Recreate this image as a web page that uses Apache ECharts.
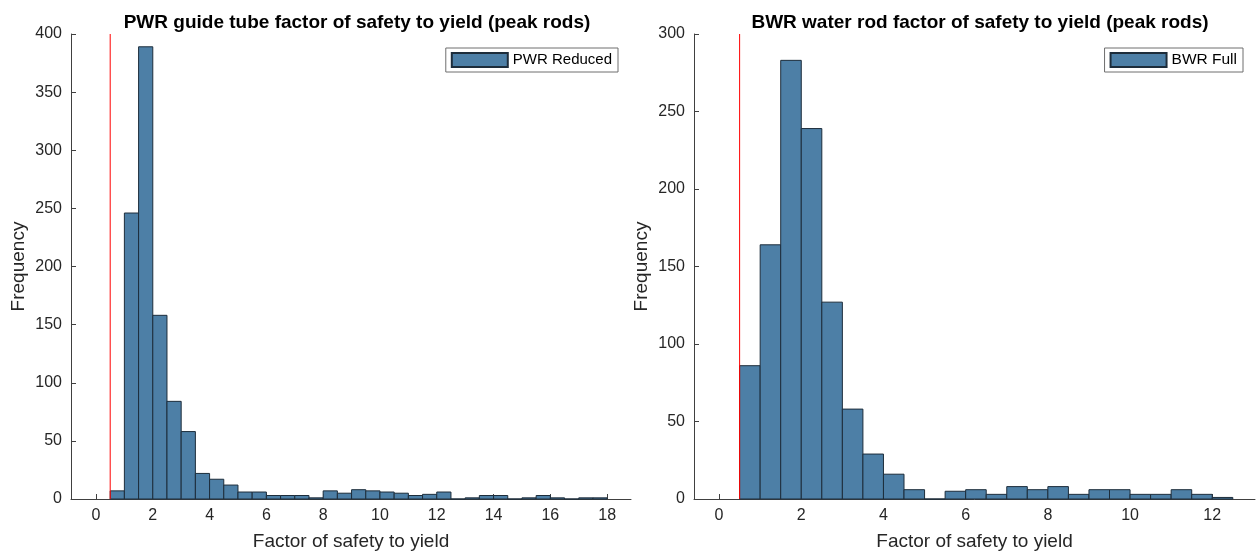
<!DOCTYPE html>
<html>
<head>
<meta charset="utf-8">
<script src="https://cdn.jsdelivr.net/npm/echarts@6/dist/echarts.min.js"></script>
<style>
  html, body { margin: 0; padding: 0; background: #ffffff; }
  #chart { width: 1256px; height: 556px; }
</style>
</head>
<body>
<div id="chart"></div>
<script>
// PWR guide tube histogram: bin edges and counts
const pwrEdges = [0.5, 1, 1.5, 2, 2.5, 3, 3.5, 4, 4.5, 5, 5.5, 6, 6.5, 7, 7.5, 8, 8.5, 9, 9.5,
  10, 10.5, 11, 11.5, 12, 12.5, 13, 13.5, 14, 14.5, 15, 15.5, 16, 16.5, 17, 17.5, 18];
const pwrCounts = [7, 246, 389, 158, 84, 58, 22, 17, 12, 6, 6, 3, 3, 3, 1, 7, 5, 8, 7, 6,
  5, 3, 4, 6, 0, 1, 3, 3, 0, 1, 3, 1, 0, 1, 1];

// BWR water rod histogram: bin edges and counts
const bwrEdges = [0.5, 1, 1.5, 2, 2.5, 3, 3.5, 4, 4.5, 5, 5.5, 6, 6.5, 7, 7.5, 8, 8.5, 9, 9.5,
  10, 10.5, 11, 11.5, 12, 12.5];
const bwrCounts = [86, 164, 283, 239, 127, 58, 29, 16, 6, 0, 5, 6, 3, 8, 6, 8, 3, 6, 6, 3,
  3, 6, 3, 1];

// Yield limit (factor of safety) marked by the red line
const limitFS = 0.5;

// Tick labels
const pwrXTicks = [0, 2, 4, 6, 8, 10, 12, 14, 16, 18];
const bwrXTicks = [0, 2, 4, 6, 8, 10, 12];
const pwrYMax = 400;
const bwrYMax = 300;

const titles = [
  'PWR guide tube factor of safety to yield (peak rods)',
  'BWR water rod factor of safety to yield (peak rods)'
];
const seriesNames = ['PWR Reduced', 'BWR Full'];

const BAR_FILL = '#4d7fa6';
const BAR_EDGE = '#1d2d3b';
const AXIS_COLOR = '#404040';
const TEXT_COLOR = '#262626';
const FONT = 'Liberation Sans, Arial, Helvetica, sans-serif';

function binData(edges, counts) {
  return counts.map((c, i) => [edges[i], edges[i + 1], c]);
}

function renderBin(params, api) {
  const lo = api.value(0), hi = api.value(1), n = api.value(2);
  const pTop = api.coord([lo, n]);
  const pBase = api.coord([hi, 0]);
  return {
    type: 'rect',
    shape: { x: pTop[0], y: pTop[1], width: pBase[0] - pTop[0], height: pBase[1] - pTop[1] },
    style: { fill: BAR_FILL, stroke: BAR_EDGE, lineWidth: 1 }
  };
}

function xAxisCfg(gridIndex, min, max, ticks) {
  return {
    type: 'value', gridIndex, min, max,
    name: 'Factor of safety to yield', nameLocation: 'middle', nameGap: 33,
    nameTextStyle: { fontSize: 19, color: TEXT_COLOR, fontFamily: FONT },
    axisLine: { show: true, onZero: false, lineStyle: { color: AXIS_COLOR, width: 1 } },
    axisTick: { show: true, inside: true, length: 5, customValues: ticks, lineStyle: { color: AXIS_COLOR } },
    axisLabel: { customValues: ticks, fontSize: 16, color: TEXT_COLOR, fontFamily: FONT, margin: 9 },
    splitLine: { show: false }
  };
}

function yAxisCfg(gridIndex, max) {
  return {
    type: 'value', gridIndex, min: 0, max, interval: 50,
    name: 'Frequency', nameLocation: 'middle', nameGap: 43, nameRotate: 90,
    nameTextStyle: { fontSize: 19, color: TEXT_COLOR, fontFamily: FONT },
    axisLine: { show: true, onZero: false, lineStyle: { color: AXIS_COLOR, width: 1 } },
    axisTick: { show: true, inside: true, length: 5, lineStyle: { color: AXIS_COLOR } },
    axisLabel: { fontSize: 16, color: TEXT_COLOR, fontFamily: FONT, margin: 9 },
    splitLine: { show: false }
  };
}

function legendCfg(name, right, fontSize) {
  return {
    data: [{ name, icon: 'rect' }],
    right, top: 48,
    orient: 'vertical',
    itemWidth: 56, itemHeight: 14,
    padding: [4, 6, 4, 5],
    borderColor: '#6e6e6e', borderWidth: 1,
    backgroundColor: '#ffffff',
    textStyle: { fontSize, color: '#000000', fontFamily: FONT }
  };
}

const chart = echarts.init(document.getElementById('chart'), null, { renderer: 'canvas' });

chart.setOption({
  backgroundColor: '#ffffff',
  animation: false,
  title: [
    { text: titles[0], left: 352, top: 8, textAlign: 'center',
      textStyle: { fontSize: 19, fontWeight: 'bold', color: '#000000', fontFamily: FONT } },
    { text: titles[1], left: 975, top: 8, textAlign: 'center',
      textStyle: { fontSize: 19, fontWeight: 'bold', color: '#000000', fontFamily: FONT } }
  ],
  legend: [legendCfg(seriesNames[0], 638, 15), legendCfg(seriesNames[1], 13, 15.5)],
  grid: [
    { left: 71, top: 34, width: 560, height: 468 },
    { left: 694, top: 34, width: 561, height: 470 }
  ],
  xAxis: [
    xAxisCfg(0, -0.88, 18.84, pwrXTicks),
    xAxisCfg(1, -0.61, 13.04, bwrXTicks)
  ],
  yAxis: [yAxisCfg(0, pwrYMax), yAxisCfg(1, bwrYMax)],
  series: [
    {
      name: seriesNames[0], type: 'custom', xAxisIndex: 0, yAxisIndex: 0,
      renderItem: renderBin, encode: { x: [0, 1], y: 2 },
      itemStyle: { color: BAR_FILL, borderColor: BAR_EDGE, borderWidth: 1 },
      data: binData(pwrEdges, pwrCounts), z: 2
    },
    {
      name: seriesNames[1], type: 'custom', xAxisIndex: 1, yAxisIndex: 1,
      renderItem: renderBin, encode: { x: [0, 1], y: 2 },
      itemStyle: { color: BAR_FILL, borderColor: BAR_EDGE, borderWidth: 1 },
      data: binData(bwrEdges, bwrCounts), z: 2
    },
    {
      name: 'limit-pwr', type: 'line', xAxisIndex: 0, yAxisIndex: 0,
      data: [[limitFS, 0], [limitFS, pwrYMax]], symbol: 'none', silent: true,
      lineStyle: { color: '#ff0000', width: 1 }, z: 3
    },
    {
      name: 'limit-bwr', type: 'line', xAxisIndex: 1, yAxisIndex: 1,
      data: [[limitFS, 0], [limitFS, bwrYMax]], symbol: 'none', silent: true,
      lineStyle: { color: '#ff0000', width: 1 }, z: 3
    }
  ]
});
</script>
</body>
</html>
